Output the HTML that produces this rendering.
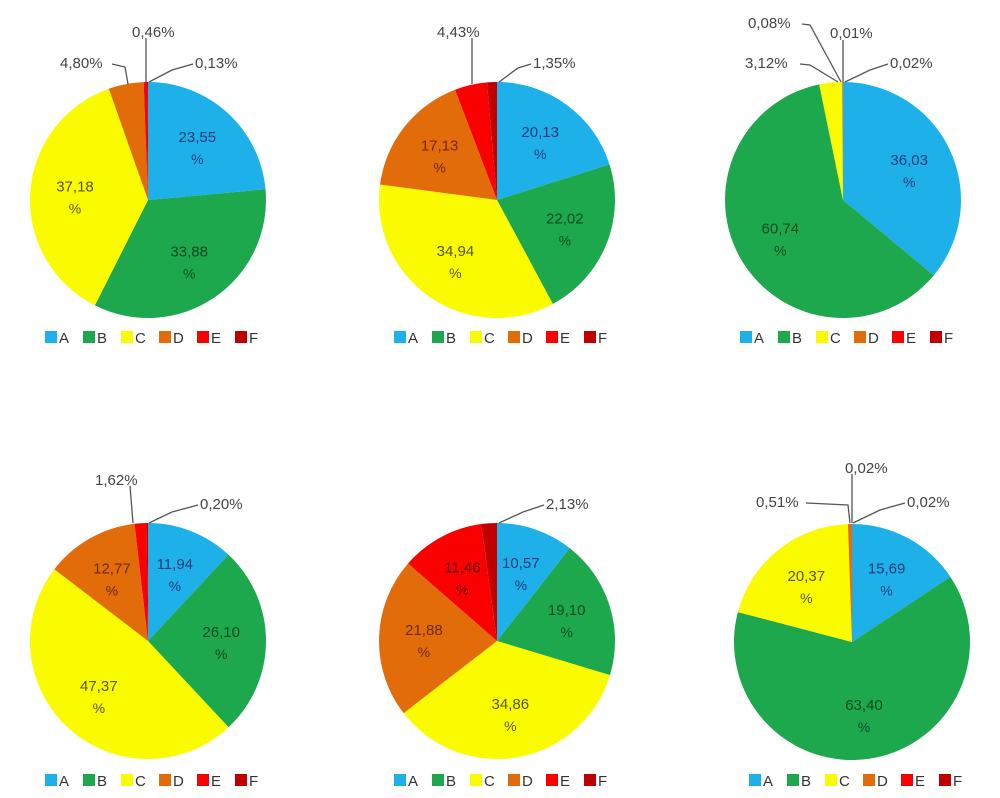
<!DOCTYPE html>
<html><head><meta charset="utf-8"><style>
html,body{margin:0;padding:0;background:#fff;width:1000px;height:798px;overflow:hidden}
svg{display:block}
</style></head><body>
<svg id="chart" width="1000" height="798" viewBox="0 0 1000 798" xmlns="http://www.w3.org/2000/svg"></svg>
<script>
// Data
const categories = ['A','B','C','D','E','F'];
const pie1Values = [23.55,33.88,37.18,4.80,0.46,0.13];
const pie2Values = [20.13,22.02,34.94,17.13,4.43,1.35];
const pie3Values = [36.03,60.74,3.12,0.08,0.01,0.02];
const pie4Values = [11.94,26.10,47.37,12.77,1.62,0.20];
const pie5Values = [10.57,19.10,34.86,21.88,11.46,2.13];
const pie6Values = [15.69,63.40,20.37,0.51,0.02,0.02];
const seriesList = [pie1Values,pie2Values,pie3Values,pie4Values,pie5Values,pie6Values];

// Layout (not data)
const colors = ['#1eb1e9','#1ea84e','#fbfb00','#e36c0a','#fb0000','#c00000'];
const inText = ['#1f3b78','#0c4a22','#545400','#6a2a00','#600000','#400000'];
const centers = [[148,200],[497,200],[843,200],[148,641],[497,641],[852,642]];
const R = 118;
// outside label placement per pie: {slice index: [textX(left), textY, leader points...]}
const outside = [
  {4:[[132,32],[[146,38],[146,82]]],3:[[60,63],[[112,64],[125,67],[128,84]]],5:[[195,63],[[193,64],[172,70],[149,82]]]},
  {4:[[437,32],[[472,38],[472,84]]],5:[[533,63],[[531,64],[518,68],[499,82]]]},
  {3:[[748,23],[[802,24],[810,25],[841,82]]],4:[[830,33],[[843,40],[843,82]]],2:[[745,63],[[800,64],[810,65],[838,82]]],5:[[890,63],[[888,64],[870,70],[845,82]]]},
  {4:[[95,480],[[130,486],[133,523]]],5:[[200,504],[[198,505],[172,512],[149,523]]]},
  {4:[[392,480],[[480,490],[486,523]]],5:[[546,504],[[544,505],[523,512],[499,523]]]},
  {4:[[845,468],[[852,474],[852,523]]],3:[[756,502],[[806,503],[848,505],[850,523]]],5:[[907,502],[[905,503],[880,510],[853,523]]]}
];

const svg = document.getElementById('chart');
const NS = 'http://www.w3.org/2000/svg';
function mk(tag, attrs){const e=document.createElementNS(NS,tag);for(const k in attrs)e.setAttribute(k,attrs[k]);return e;}
function pt(cx,cy,r,frac){const a=frac*2*Math.PI;return [cx+r*Math.sin(a),cy-r*Math.cos(a)];}
function fmt(v){return v.toFixed(2).replace('.',',');}

seriesList.forEach((vals,pi)=>{
  const [cx,cy]=centers[pi];
  const g=mk('g',{});
  
  
  svg.appendChild(g);
  const total=vals.reduce((a,b)=>a+b,0);
  let acc=0;
  vals.forEach((v,i)=>{
    const f0=acc/total, f1=(acc+v)/total; acc+=v;
    const [x0,y0]=pt(cx,cy,R,f0), [x1,y1]=pt(cx,cy,R,f1);
    const large=(f1-f0)>0.5?1:0;
    const p=mk('path',{d:`M${cx},${cy} L${x0.toFixed(2)},${y0.toFixed(2)} A${R},${R} 0 ${large} 1 ${x1.toFixed(2)},${y1.toFixed(2)} Z`,fill:colors[i]});
    
    
    g.appendChild(p);
    const frac=f1-f0;
    if(frac>0.08){
      const [lx,ly]=pt(cx,cy,R*0.62,(f0+f1)/2);
      const t=mk('text',{x:lx.toFixed(1),y:(ly-4).toFixed(1),'text-anchor':'middle','font-family':'Liberation Sans, sans-serif','font-size':'15',fill:inText[i]});
      t.textContent=fmt(v);
      
      
      g.appendChild(t);
      const t2=mk('text',{x:lx.toFixed(1),y:(ly+18).toFixed(1),'text-anchor':'middle','font-family':'Liberation Sans, sans-serif','font-size':'14',fill:inText[i]});
      t2.textContent='%';
      
      
      g.appendChild(t2);
    } else if(outside[pi][i]){
      const [[tx,ty],pts]=outside[pi][i];
      const l=mk('polyline',{points:pts.map(q=>q.join(',')).join(' '),fill:'none',stroke:'#555','stroke-width':'1.3'});
      
      
      g.appendChild(l);
      const big = pi===4 && i===4;
      const t=mk('text',{x:tx,y:ty+5,'font-family':'Liberation Sans, sans-serif','font-size':'15',fill:'#444'});
      t.textContent = big ? fmt(v) : fmt(v)+'%';
      
      
      g.appendChild(t);
      if(big){
        const t2=mk('text',{x:tx+4,y:ty+28,'font-family':'Liberation Sans, sans-serif','font-size':'14',fill:'#444'});
        t2.textContent='%';
        
        
        g.appendChild(t2);
      }
    }
  });
  // legend
  const lg=mk('g',{});
  
  
  g.appendChild(lg);
  const ly = pi<3 ? 337 : 780;
  categories.forEach((c,i)=>{
    const x=cx-103+i*38;
    const it=mk('g',{});
    
    
    lg.appendChild(it);
    it.appendChild(mk('rect',{x:x,y:ly-6,width:12,height:12,fill:colors[i]}));
    const t=mk('text',{x:x+14,y:ly+6,'font-family':'Liberation Sans, sans-serif','font-size':'15',fill:'#333'});
    t.textContent=c;
    it.appendChild(t);
  });
});
</script>
</body></html>
